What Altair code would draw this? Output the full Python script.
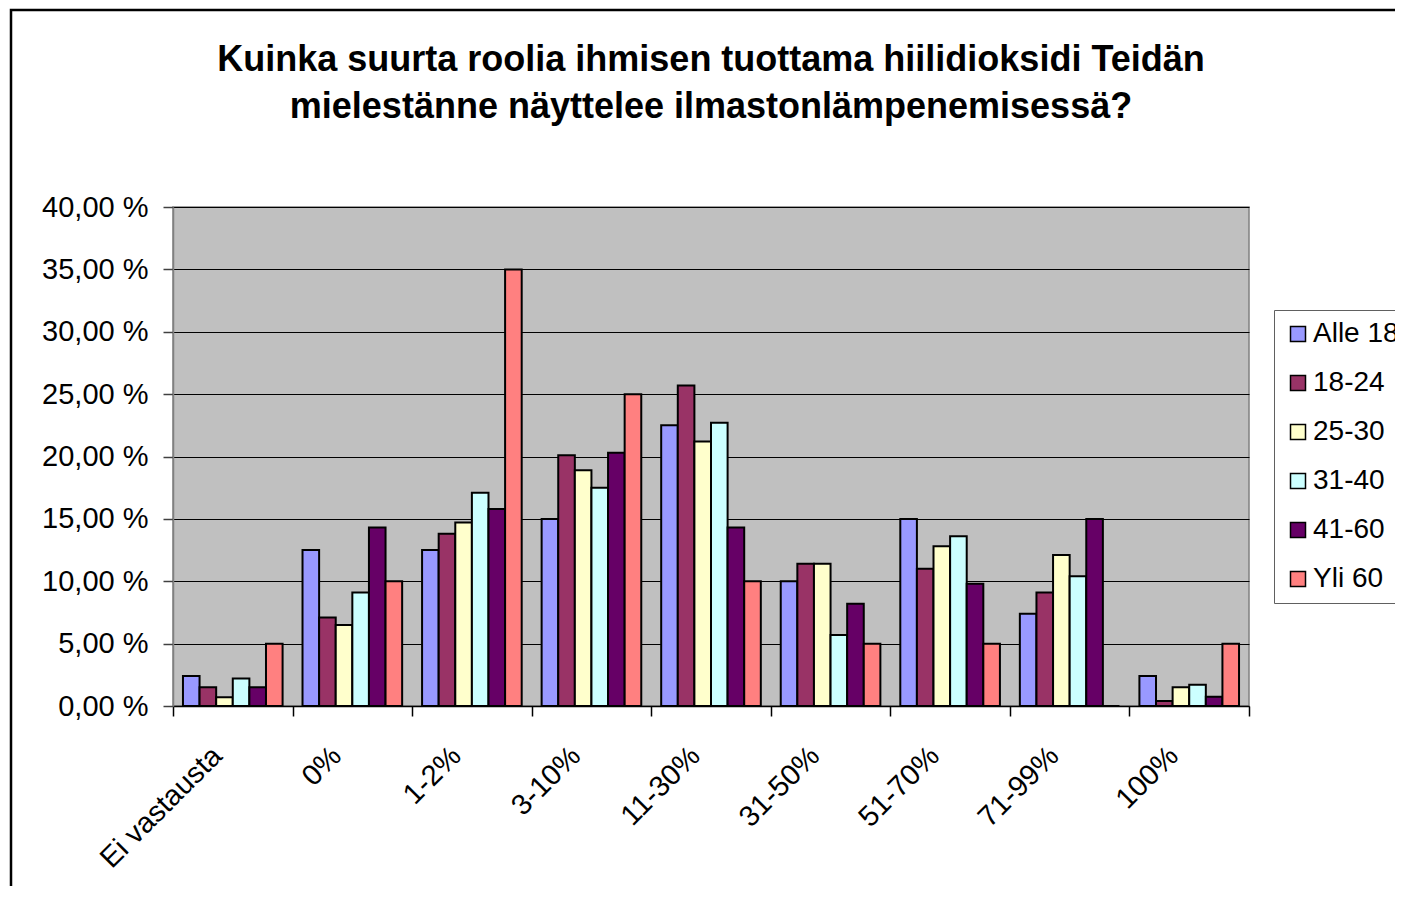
import altair as alt
import pandas as pd

categories = ["Ei vastausta", "0%", "1-2%", "3-10%", "11-30%", "31-50%", "51-70%", "71-99%", "100%"]
groups = ["Alle 18", "18-24", "25-30", "31-40", "41-60", "Yli 60"]
colors = ["#9999FF", "#993366", "#FFFFCC", "#CCFFFF", "#660066", "#FF8080"]

alle_18 = [2.4, 12.5, 12.5, 15.0, 22.5, 10.0, 15.0, 7.4, 2.4]
v18_24 = [1.5, 7.1, 13.8, 20.1, 25.7, 11.4, 11.0, 9.1, 0.4]
v25_30 = [0.7, 6.5, 14.7, 18.9, 21.2, 11.4, 12.8, 12.1, 1.5]
v31_40 = [2.2, 9.1, 17.1, 17.5, 22.7, 5.7, 13.6, 10.4, 1.7]
v41_60 = [1.5, 14.3, 15.8, 20.3, 14.3, 8.2, 9.8, 15.0, 0.75]
yli_60 = [5.0, 10.0, 35.0, 25.0, 10.0, 5.0, 5.0, 0.0, 5.0]

y_ticks = [0, 5, 10, 15, 20, 25, 30, 35, 40]

series = [alle_18, v18_24, v25_30, v31_40, v41_60, yli_60]
rows = []
for g, vals in zip(groups, series):
    for c, v in zip(categories, vals):
        rows.append({"kategoria": c, "ryhma": g, "osuus": v})
df = pd.DataFrame(rows)

FONT = "Liberation Sans"

bars = alt.Chart(df).mark_bar(stroke="black", strokeWidth=2).encode(
    x=alt.X(
        "kategoria:N",
        sort=categories,
        scale=alt.Scale(paddingInner=0, paddingOuter=0),
        axis=alt.Axis(
            title=None,
            labelAngle=-45,
            labelAlign="right",
            labelBaseline="top",
            labelFontSize=29,
            labelFont=FONT,
            labelColor="black",
            labelPadding=25,
            labelOffset=-26,
            tickBand="extent",
            tickSize=10,
            tickColor="black",
            tickWidth=1.5,
            domainColor="black",
            domainWidth=1.5,
            grid=False,
        ),
    ),
    xOffset=alt.XOffset("ryhma:N", sort=groups, scale=alt.Scale(paddingInner=0, paddingOuter=0.6)),
    y=alt.Y(
        "osuus:Q",
        scale=alt.Scale(domain=[0, 40], nice=False),
        axis=alt.Axis(
            title=None,
            values=y_ticks,
            labelExpr="replace(format(datum.value, '.2f'), '.', ',') + ' %'",
            labelFontSize=29,
            labelFont=FONT,
            labelColor="black",
            labelPadding=15,
            tickSize=10,
            tickColor="#404040",
            tickWidth=1.5,
            domainColor="#808080",
            domainWidth=1.5,
            grid=True,
            gridColor="black",
            gridWidth=1,
        ),
    ),
    color=alt.Color(
        "ryhma:N",
        sort=groups,
        scale=alt.Scale(domain=groups, range=colors),
        legend=alt.Legend(
            title=None,
            orient="none",
            legendX=1101,
            legendY=103,
            padding=10,
            strokeColor="#606060",
            fillColor="white",
            symbolType="square",
            symbolSize=225,
            symbolStrokeColor="black",
            symbolStrokeWidth=1.5,
            labelFontSize=28,
            labelFont=FONT,
            labelColor="black",
            labelOffset=1,
            rowPadding=21,
        ),
    ),
)

frame_df = pd.DataFrame({"k": [0]})
frame = alt.Chart(frame_df).mark_rect(fill=None, stroke="black", strokeWidth=2.5).encode(
    x=alt.value(-162),
    x2=alt.value(3000),
    y=alt.value(-197),
    y2=alt.value(3000),
)

chart = alt.layer(frame, bars).properties(
    width=1076,
    height=499,
    autosize=alt.AutoSizeParams(type="none"),
    padding={"left": 165, "top": 199, "right": 146, "bottom": 180},
    background="white",
    title=alt.TitleParams(
        text=["Kuinka suurta roolia ihmisen tuottama hiilidioksidi Teidän",
              "mielestänne näyttelee ilmastonlämpenemisessä?"],
        fontSize=36,
        font=FONT,
        fontWeight="bold",
        color="black",
        anchor="middle",
        lineHeight=47,
        offset=-117,
    ),
).configure_view(
    fill="#C0C0C0",
    stroke="#808080",
    strokeWidth=1.5,
)

chart.save("out.html", embed_options={"renderer": "svg", "actions": False})
